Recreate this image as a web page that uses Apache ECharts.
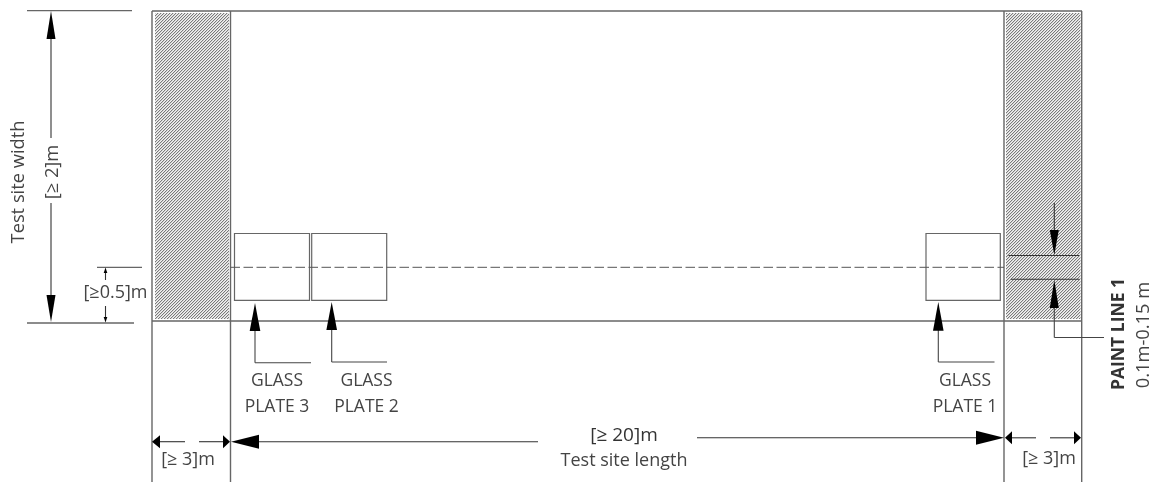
<!DOCTYPE html>
<html><head><meta charset="utf-8">
<style>html,body{margin:0;padding:0;background:#fff}#c{width:1162px;height:482px;filter:blur(0.35px)}</style>
<script src="https://cdn.jsdelivr.net/npm/echarts@6/dist/echarts.min.js"></script>
</head><body><div id="c"></div>
<script>
// Diagram geometry (x1,y1,x2,y2 on the page-sized axes)
const frameLines = [
  [152,11,1082,11],[152,321,1082,321],
  [152,11,152,482],[230.5,11,230.5,482],[1004,11,1004,482],[1081.7,11,1081.7,482]
];
const extensionLines = [
  [27,10.7,132,10.7],[27,323,134,323],[97,267.3,142,267.3]
];
const dimensionLines = [
  [51,39,51,138],[51,203,51,296],
  [105.5,271,105.5,280],[105.5,306,105.5,318],
  [160,441.7,185,441.7],[199,441.7,223,441.7],
  [258,441.7,538,441.7],[697,437.8,977,437.8],
  [1012,437.8,1036,437.8],[1050,437.8,1074,437.8],
  [1054.3,203,1054.3,231],[1008.5,255.5,1079,255.5],[1011,279.3,1079.5,279.3]
];
const leaderLines = [
  [255,330,255,362.7],[255,362.7,311,362.7],
  [331.7,329,331.7,362],[331.7,362,387,362],
  [938.3,330,938.3,362],[938.3,362,994.5,362],
  [1054.3,307,1054.3,337.5],[1054.3,337.5,1104,337.5]
];
const centreLine = [[230.5,267.3,1004,267.3]];
const hatchZones = [[155,13,229,319],[1006,13,1080.5,319]];
const glassPlates = [[234.5,233.5,309.5,300.3],[311.7,233.5,386.7,300.3],[926,233.5,1000.3,300.3]];
// arrows: tipX, tipY, baseX, baseY
const largeArrows = [[231,441.7,259,441.7],[1004,437.8,976,437.8]];
const plateArrows = [[255,303,255,331],[331.7,302,331.7,330],[938.3,302,938.3,330.7]];
const widthArrows = [[51,11,51,39],[51,322,51,295],[1054.3,255,1054.3,230],[1054.3,280,1054.3,308]];
const endArrows = [[152,441.7,160,441.7],[230,441.7,223,441.7],[1005,437.8,1012,437.8],[1081,437.8,1074,437.8]];
const tinyArrows = [[105.5,267.5,105.5,273],[105.5,322.5,105.5,317]];
// labels: text, x, y
const plateLabels = [
  ['GLASS',277,381],['PLATE 3',277,407],['GLASS',366.5,381],['PLATE 2',366.5,407],
  ['GLASS',965,381],['PLATE 1',965,407]
];
const dimensionLabels = [['[≥0.5]m',115.5,293],['[≥ 3]m',188,460],['[≥ 3]m',1049,459],['Test site length',624,461]];
const lengthLabel = [['[≥ 20]m',624,436]];
const widthLabels = [['Test site width',19,182],['[≥ 2]m',53,172],['0.1m-0.15 m',1144,335]];
const boldLabels = [['PAINT LINE 1',1119,334]];

const FONT = '"Open Sans", "Noto Sans", sans-serif';
const hatch = document.createElement('canvas');
hatch.width = 3; hatch.height = 3;
(function(){
  const g = hatch.getContext('2d');
  const shades = ['#d4d4d4','#f2f2f2','#7a7a7a'];
  for (let x=0;x<3;x++) for (let y=0;y<3;y++) {
    g.fillStyle = shades[(x+y)%3]; g.fillRect(x,y,1,1);
  }
})();

function lineSeries(data, stroke, width, dash){
  return {type:'custom', coordinateSystem:'cartesian2d', silent:true, clip:false, data,
    renderItem:(p,api)=>{
      const a=api.coord([api.value(0),api.value(1)]), b=api.coord([api.value(2),api.value(3)]);
      return {type:'line', shape:{x1:a[0],y1:a[1],x2:b[0],y2:b[1]},
        style:{stroke, lineWidth:width, lineDash:dash||null, fill:null}};
    }};
}
function rectSeries(data, fill, stroke, width){
  return {type:'custom', coordinateSystem:'cartesian2d', silent:true, clip:false, data,
    renderItem:(p,api)=>{
      const a=api.coord([api.value(0),api.value(1)]), b=api.coord([api.value(2),api.value(3)]);
      return {type:'rect', shape:{x:a[0],y:a[1],width:b[0]-a[0],height:b[1]-a[1]},
        style:{fill, stroke, lineWidth:width}};
    }};
}
function arrowSeries(data, half){
  return {type:'custom', coordinateSystem:'cartesian2d', silent:true, clip:false, data,
    renderItem:(p,api)=>{
      const a=api.coord([api.value(0),api.value(1)]), b=api.coord([api.value(2),api.value(3)]);
      const dx=b[0]-a[0], dy=b[1]-a[1], l=Math.hypot(dx,dy), nx=-dy/l*half, ny=dx/l*half;
      return {type:'polygon', shape:{points:[a,[b[0]+nx,b[1]+ny],[b[0]-nx,b[1]-ny]]},
        style:{fill:'#000', stroke:null}};
    }};
}
function textSeries(data, size, weight, color, rotation){
  return {type:'custom', coordinateSystem:'cartesian2d', silent:true, clip:false,
    data:data.map(d=>({value:[d[1],d[2]], name:d[0]})), 
    renderItem:(p,api)=>{
      const a=api.coord([api.value(0),api.value(1)]);
      return {type:'text', x:a[0], y:a[1], rotation:rotation||0,
        style:{text:data[p.dataIndex][0], fill:color, align:'center', verticalAlign:'middle',
          font:weight+' '+size+'px '+FONT}};
    }};
}

const chart = echarts.init(document.getElementById('c'), null, {renderer:'canvas'});
chart.setOption({
  animation:false, backgroundColor:'#fff',
  grid:{left:0,right:0,top:0,bottom:0},
  xAxis:{type:'value',min:0,max:1162,show:false},
  yAxis:{type:'value',min:0,max:482,inverse:true,show:false},
  series:[
    rectSeries(hatchZones,{image:hatch,repeat:'repeat'},null,0),
    rectSeries(glassPlates,'#fff','#666',1.2),
    lineSeries(frameLines,'#666',1.4),
    lineSeries(extensionLines,'#666',1.3),
    lineSeries(centreLine,'#555',1,[9.5,3.5]),
    lineSeries(dimensionLines,'#333',1.1),
    lineSeries(leaderLines,'#444',1.1),
    arrowSeries(largeArrows,7),
    arrowSeries(plateArrows,5.3),
    arrowSeries(widthArrows,4.5),
    arrowSeries(endArrows,6.5),
    arrowSeries(tinyArrows,1.8),
    textSeries(plateLabels,17.5,'normal','#444'),
    textSeries(dimensionLabels,18,'normal','#444'),
    textSeries(lengthLabel,19,'normal','#333'),
    textSeries(widthLabels,18.3,'normal','#444',Math.PI/2),
    textSeries(boldLabels,17.5,'bold','#333',Math.PI/2)
  ]
});
</script></body></html>
